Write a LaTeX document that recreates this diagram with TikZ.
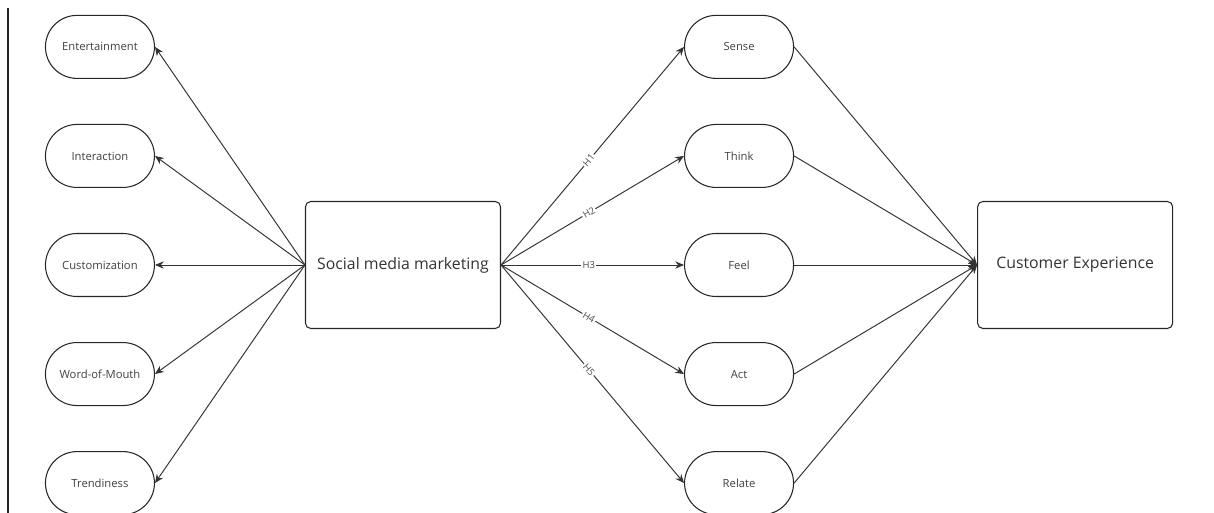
\documentclass[tikz,border=0pt]{standalone}
\usepackage{fontspec}
\setmainfont{Open Sans}
\usetikzlibrary{positioning,arrows.meta}

\begin{document}
\begin{tikzpicture}[
        >={Stealth[length=5pt,width=4.2pt]},
        every edge/.style={draw=black!80, line width=0.55pt},
        dimension/.style={
            rectangle, rounded corners=0.63cm, draw=black!85, line width=0.6pt,
            minimum width=2.18cm, minimum height=1.26cm,
            text=black!75, font=\fontsize{6.4}{7.5}\selectfont
        },
        construct/.style={
            rectangle, rounded corners=3pt, draw=black!85, line width=0.6pt,
            minimum width=3.9cm, minimum height=2.54cm,
            text=black!80, font=\fontsize{9}{11}\selectfont
        },
        hypo/.style={
            sloped, fill=white, inner sep=0.7pt, text=black!70,
            font=\fontsize{5.4}{6}\selectfont
        },
        node distance=0.9cm,
    ]
    \useasboundingbox (0,0) rectangle (24.28,-10.26);
    \draw[black!85, line width=0.7pt] (0.16,-0.16) -- (0.16,-10.26);

    \node (socialMedia) [construct] at (8.06,-5.30) {Social media marketing};

    % left column
    \node (customization) [dimension, left=3cm of socialMedia] {Customization};
    \node (interaction) [dimension, above=of customization] {Interaction};
    \node (entertainment) [dimension, above=of interaction] {Entertainment};
    \node (wordOfMouth) [dimension, below=of customization] {Word-of-Mouth};
    \node (trendiness) [dimension, below=of wordOfMouth] {Trendiness};

    \path (socialMedia.west) edge[->] (entertainment.east);
    \path (socialMedia.west) edge[->] (interaction.east);
    \path (socialMedia.west) edge[->] (customization.east);
    \path (socialMedia.west) edge[->] (wordOfMouth.east);
    \path (socialMedia.west) edge[->] (trendiness.east);

    % right column
    \node (feel) [dimension, right=3.66cm of socialMedia] {Feel};
    \node (think) [dimension, above=of feel] {Think};
    \node (sense) [dimension, above=of think] {Sense};
    \node (act) [dimension, below=of feel] {Act};
    \node (relate) [dimension, below=of act] {Relate};

    \path (socialMedia.east) edge[->] node[hypo, pos=0.48] {H1} (sense.west);
    \path (socialMedia.east) edge[->] node[hypo, pos=0.48] {H2} (think.west);
    \path (socialMedia.east) edge[->] node[hypo, pos=0.48] {H3} (feel.west);
    \path (socialMedia.east) edge[->] node[hypo, pos=0.48] {H4} (act.west);
    \path (socialMedia.east) edge[->] node[hypo, pos=0.48] {H5} (relate.west);

    \node (custExperience) [construct, right=3.66cm of feel] {Customer Experience};

    \path (sense.east) edge[->] (custExperience.west);
    \path (think.east) edge[->] (custExperience.west);
    \path (feel.east) edge[->] (custExperience.west);
    \path (act.east) edge[->] (custExperience.west);
    \path (relate.east) edge[->] (custExperience.west);

\end{tikzpicture}
\end{document}
